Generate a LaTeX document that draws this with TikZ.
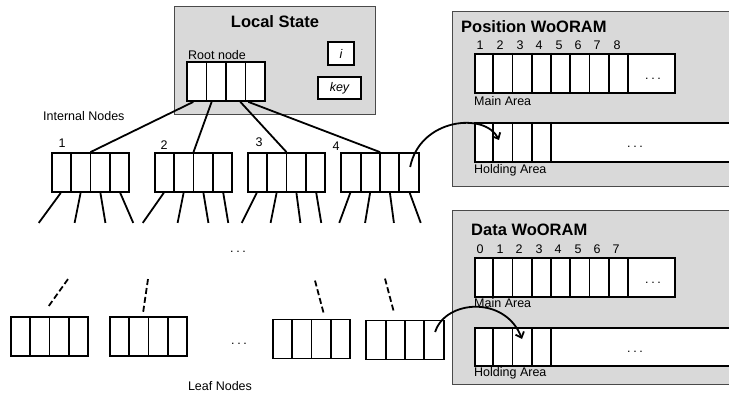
\documentclass[tikz,border=0pt]{standalone}
\usepackage{fontspec}
\setmainfont{Liberation Sans}
\usetikzlibrary{calc,arrows.meta}
\definecolor{panel}{HTML}{D9D9D9}
\definecolor{panelborder}{HTML}{4A4A4A}
\newcommand{\spdots}{.\hspace{2.6pt}.\hspace{2.6pt}.}
\begin{document}
\begin{tikzpicture}[x=1pt,y=-1pt,
  panelbox/.style={draw=panelborder,fill=panel,line width=1pt},
  quad/.style={draw,fill=white,line width=1.8pt,minimum width=77.5pt,minimum height=39pt,inner sep=0pt,
    path picture={\foreach \f in {0.25,0.5,0.75}{\draw[line width=1.8pt]
      ($(path picture bounding box.north west)!\f!(path picture bounding box.north east)$) --
      ($(path picture bounding box.south west)!\f!(path picture bounding box.south east)$);}}},
  cellrow/.style={draw,fill=white,line width=1.8pt,inner sep=0pt},
  divider/.style={line width=1.8pt},
  small/.style={font=\fontsize{12.5}{14}\selectfont,inner sep=0pt},
  ttl/.style={font=\fontsize{16.5}{19}\selectfont\bfseries,inner sep=0pt},
  edge/.style={line width=1.8pt},
  dedge/.style={line width=1.8pt,dash pattern=on 6pt off 3pt},
  curvy/.style={line width=1.8pt,-{Straight Barb[length=5pt,width=9pt,line width=1.8pt]}}]
\useasboundingbox (0,0) rectangle (729,393);

% ---- Local State panel
\node[panelbox,minimum width=201pt,minimum height=108pt,inner sep=0pt] (ls) at (274.5,61) {};
\node[ttl] (lstitle) at (275,22) {Local State};
\node[small,anchor=west] (rootlbl) at (188,55) {Root node};
\node[quad,minimum width=78pt] (root) at (226,81.5) {};
\node[draw,fill=white,line width=1.8pt,minimum width=26pt,minimum height=23pt,inner sep=0pt,font=\fontsize{12.5}{14}\selectfont\itshape] (ibox) at (341,53.5) {i};
\node[draw,fill=white,line width=1.8pt,minimum width=43pt,minimum height=22pt,inner sep=0pt,font=\fontsize{12.5}{14}\selectfont\itshape] (keybox) at (339.5,88) {key};

% ---- Internal nodes
\node[small,anchor=west] (intlbl) at (43,116) {Internal Nodes};
\node[quad] (n1) at (90.5,172.5) {};
\node[quad] (n2) at (193.5,172.5) {};
\node[quad] (n3) at (286.5,172.5) {};
\node[quad] (n4) at (380,172.5) {};
\node[small] (l1) at (62,143) {1};
\node[small] (l2) at (164,145) {2};
\node[small] (l3) at (259,142) {3};
\node[small] (l4) at (336,146) {4};

% root to internal nodes
\draw[edge] ($(root.south west)!0.09!(root.south east)$) -- (n1.north);
\draw[edge] ($(root.south west)!0.32!(root.south east)$) -- (n2.north);
\draw[edge] ($(root.south west)!0.68!(root.south east)$) -- (n3.north);
\draw[edge] ($(root.south west)!0.78!(root.south east)$) -- (n4.north);

% children stubs
\foreach \n/\a/\b/\c/\d in {n1/-22/-6/5/13, n2/-21/-6/5/5, n3/-15/-6/4/5, n4/-11/-5/4/11}{
  \draw[edge] ($(\n.south west)!0.125!(\n.south east)$) -- ++(\a,30);
  \draw[edge] ($(\n.south west)!0.375!(\n.south east)$) -- ++(\b,30);
  \draw[edge] ($(\n.south west)!0.625!(\n.south east)$) -- ++(\c,30);
  \draw[edge] ($(\n.south west)!0.875!(\n.south east)$) -- ++(\d,30);
}
\node[small] (dotsmid) at (238,252) {\spdots};

% ---- Leaf nodes
\node[quad] (f1) at (49.5,336.5) {};
\node[quad] (f2) at (148.5,336.5) {};
\node[quad] (f3) at (311.5,339) {};
\node[quad] (f4) at (405,340) {};
\node[small] (dotsleaf) at (239,344) {\spdots};
\node[small] (leaflbl) at (220,386) {Leaf Nodes};
\draw[dedge] ($(f1.north)+(18.5,-37)$) -- ($(f1.north)+(-1.5,-9)$);
\draw[dedge] ($(f2.north)+(-0.5,-37)$) -- ($(f2.north)+(-5.5,-3)$);
\draw[dedge] ($(f3.north)+(3.5,-38)$) -- ($(f3.north)+(12.5,-4)$);
\draw[dedge] ($(f4.north)+(-20,-41)$) -- ($(f4.north)+(-11,-7)$);

% ---- Position WoORAM
\node[panelbox,minimum width=290pt,minimum height=175pt,inner sep=0pt,anchor=north west] (pos) at (452,11) {};
\node[ttl,anchor=west] (postitle) at (461,27) {Position WoORAM};
\foreach \k/\x in {1/480,2/500,3/520,4/539,5/559,6/578,7/597,8/617}{
  \node[small] (pn\k) at (\x,45) {\k};
}
\node[cellrow,minimum width=200pt,minimum height=39pt,anchor=north west] (pm) at (474,53) {};
\foreach \k in {1,...,8}{\draw[divider] ($(pm.north west)+(\k*19.25,0)$) -- ($(pm.south west)+(\k*19.25,0)$);}
\node[small] (pmdots) at (653,79) {\spdots};
\node[small,anchor=west] (pmlbl) at (474,101) {Main Area};
\node[cellrow,minimum width=270pt,minimum height=39pt,anchor=north west] (ph) at (474,122) {};
\foreach \k in {1,...,4}{\draw[divider] ($(ph.north west)+(\k*19.25,0)$) -- ($(ph.south west)+(\k*19.25,0)$);}
\node[small] (phdots) at (635,147) {\spdots};
\node[small,anchor=west] (phlbl) at (474,170) {Holding Area};

% ---- Data WoORAM
\node[panelbox,minimum width=290pt,minimum height=174pt,inner sep=0pt,anchor=north west] (dat) at (452,210) {};
\node[ttl,anchor=west] (dattitle) at (471,230) {Data WoORAM};
\foreach \k/\x in {0/480,1/500,2/519,3/539,4/558,5/578,6/597,7/616}{
  \node[small] (dn\k) at (\x,249) {\k};
}
\node[cellrow,minimum width=200pt,minimum height=39pt,anchor=north west] (dm) at (474,257) {};
\foreach \k in {1,...,8}{\draw[divider] ($(dm.north west)+(\k*19.25,0)$) -- ($(dm.south west)+(\k*19.25,0)$);}
\node[small] (dmdots) at (653,283) {\spdots};
\node[small,anchor=west] (dmlbl) at (474,303) {Main Area};
\node[cellrow,minimum width=270pt,minimum height=38pt,anchor=north west] (dh) at (474,327) {};
\foreach \k in {1,...,4}{\draw[divider] ($(dh.north west)+(\k*19.25,0)$) -- ($(dh.south west)+(\k*19.25,0)$);}
\node[small] (dhdots) at (635,352) {\spdots};
\node[small,anchor=west] (dhlbl) at (474,373) {Holding Area};

% ---- curved arrows
\coordinate (a1s) at ($(n4.east)+(-9.5,-5.5)$);
\coordinate (a1e) at ($(ph.north west)+(25,18)$);
\draw[curvy] (a1s) .. controls (420,118) and (485,112) .. (a1e);
\coordinate (a2s) at ($(f4.east)+(-9.5,-8)$);
\coordinate (a2e) at ($(dh.north west)+(48,12)$);
\draw[curvy] (a2s) .. controls (445,300) and (505,295) .. (a2e);
\end{tikzpicture}
\end{document}
